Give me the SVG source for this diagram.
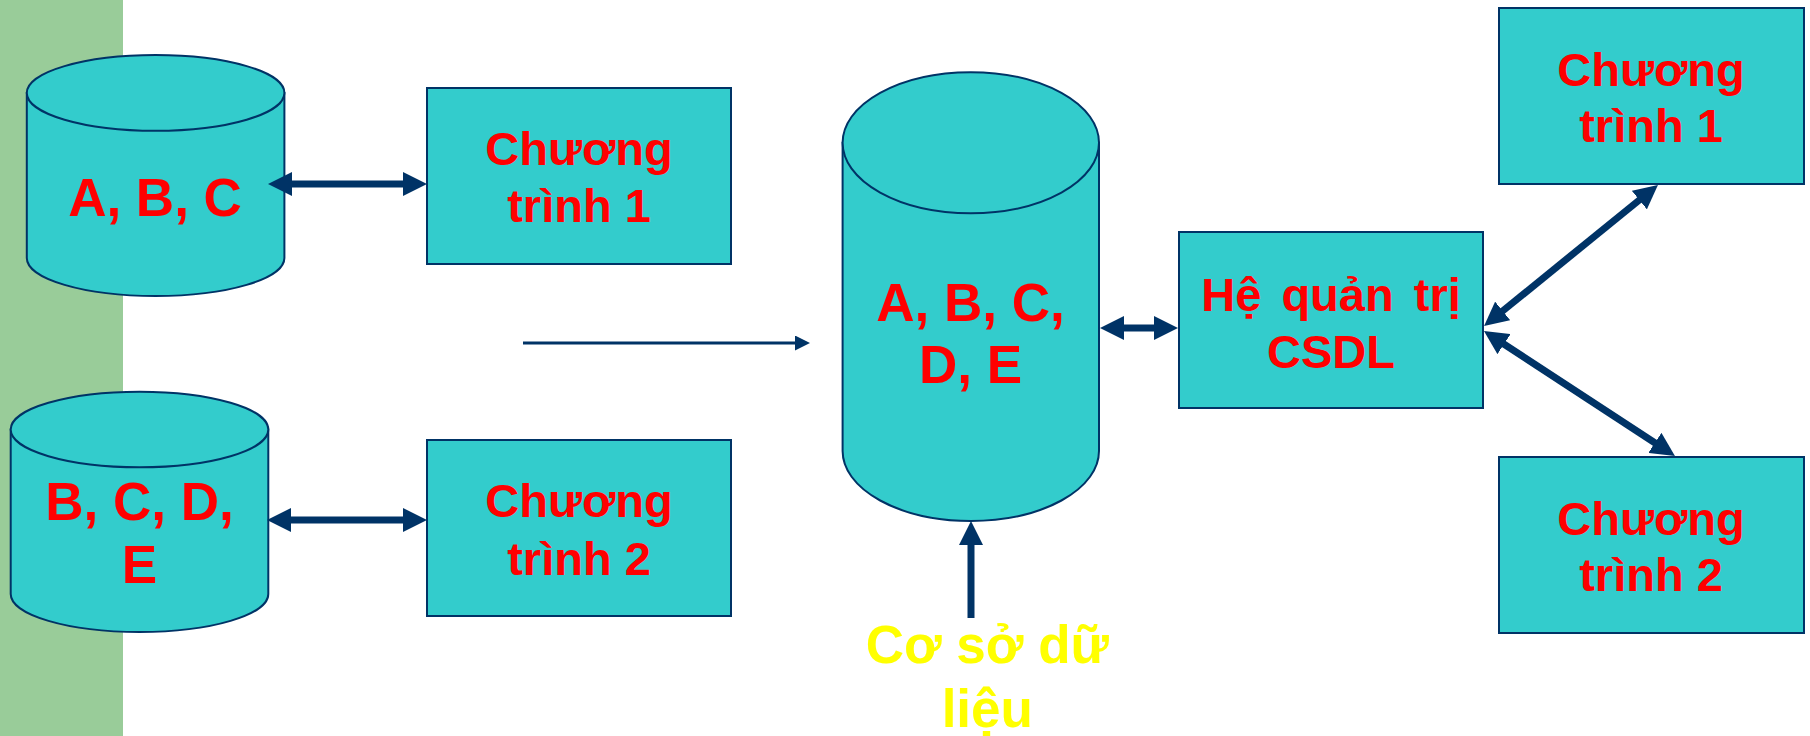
<svg xmlns="http://www.w3.org/2000/svg" width="1810" height="736" viewBox="0 0 1810 736">
  <style>
    .shape { fill: #33CCCC; stroke: #003366; stroke-width: 2; }
    .lbl { font-family: "Liberation Sans", Arial, sans-serif; font-weight: bold; fill: #FF0000; text-anchor: middle; }
    .big { font-size: 53px; }
    .box { font-size: 47px; }
    .yel { fill: #FFFF00; }
    .conn { stroke: #003366; fill: none; }
    .thick { stroke-width: 7; }
    .thin { stroke-width: 3; }
  </style>
  <defs>
    <marker id="head" markerUnits="userSpaceOnUse" viewBox="0 0 24 24" markerWidth="24" markerHeight="24" refX="9" refY="12" orient="auto-start-reverse">
      <path d="M0,0 L24,12 L0,24 z" fill="#003366"/>
    </marker>
    <marker id="small" markerUnits="userSpaceOnUse" viewBox="0 0 15 15" markerWidth="15" markerHeight="15" refX="0" refY="7.5" orient="auto">
      <path d="M0,0 L15,7.5 L0,15 z" fill="#003366"/>
    </marker>
  </defs>

  <rect x="0" y="0" width="123" height="736" fill="#99CC99"/>

  <g id="db1">
    <path class="shape" d="M26.8,92.9 V258 A128.8,38 0 0 0 284.4,258 V92.9 Z"/>
    <ellipse class="shape" cx="155.6" cy="92.9" rx="128.8" ry="37.9"/>
    <text class="lbl big" x="155" y="215.7">A, B, C</text>
  </g>

  <g id="db2">
    <path class="shape" d="M10.7,429.5 V594 A128.8,38 0 0 0 268.3,594 V429.5 Z"/>
    <ellipse class="shape" cx="139.5" cy="429.5" rx="128.8" ry="37.8"/>
    <text class="lbl big" x="139.5" y="520">B, C, D,</text>
    <text class="lbl big" x="139.5" y="582.7">E</text>
  </g>

  <g id="prog1-left">
    <rect class="shape" x="427" y="88" width="304" height="176"/>
    <text class="lbl box" x="579" y="165">Chương</text>
    <text class="lbl box" x="579" y="222.3">trình 1</text>
  </g>

  <g id="prog2-left">
    <rect class="shape" x="427" y="440" width="304" height="176"/>
    <text class="lbl box" x="579" y="517">Chương</text>
    <text class="lbl box" x="579" y="574.5">trình 2</text>
  </g>

  <g id="db-central">
    <path class="shape" d="M842.6,142.7 V451 A128.2,70 0 0 0 1099,451 V142.7 Z"/>
    <ellipse class="shape" cx="970.8" cy="142.7" rx="128.2" ry="70.5"/>
    <text class="lbl big" x="970.5" y="320.7">A, B, C,</text>
    <text class="lbl big" x="970.5" y="383.3">D, E</text>
  </g>

  <g id="dbms">
    <rect class="shape" x="1179" y="232" width="304" height="176"/>
    <text class="lbl box" x="1331" y="311" word-spacing="7">Hệ quản trị</text>
    <text class="lbl box" x="1331" y="368.3">CSDL</text>
  </g>

  <g id="prog1-right">
    <rect class="shape" x="1499" y="8" width="305" height="176"/>
    <text class="lbl box" x="1651" y="86">Chương</text>
    <text class="lbl box" x="1651" y="141.7">trình 1</text>
  </g>

  <g id="prog2-right">
    <rect class="shape" x="1499" y="457" width="305" height="176"/>
    <text class="lbl box" x="1651" y="535">Chương</text>
    <text class="lbl box" x="1651" y="591">trình 2</text>
  </g>

  <g id="label-csdl">
    <text class="lbl big yel" x="987.3" y="662.7">Cơ sở dữ</text>
    <text class="lbl big yel" x="987.3" y="727.3">liệu</text>
  </g>

  <g id="connectors">
    <line class="conn thick" x1="283" y1="184" x2="412" y2="184" marker-start="url(#head)" marker-end="url(#head)"/>
    <line class="conn thick" x1="282" y1="520" x2="412" y2="520" marker-start="url(#head)" marker-end="url(#head)"/>
    <line class="conn thin" x1="523" y1="343" x2="795" y2="343" marker-end="url(#small)"/>
    <line class="conn thick" x1="1115" y1="328" x2="1163" y2="328" marker-start="url(#head)" marker-end="url(#head)"/>
    <line class="conn thick" x1="971" y1="618" x2="971" y2="536" marker-end="url(#head)"/>
    <line class="conn thick" x1="1495.7" y1="316.6" x2="1646.3" y2="194.4" marker-start="url(#head)" marker-end="url(#head)"/>
    <line class="conn thick" x1="1496.5" y1="339.2" x2="1662.4" y2="447.8" marker-start="url(#head)" marker-end="url(#head)"/>
  </g>
</svg>
